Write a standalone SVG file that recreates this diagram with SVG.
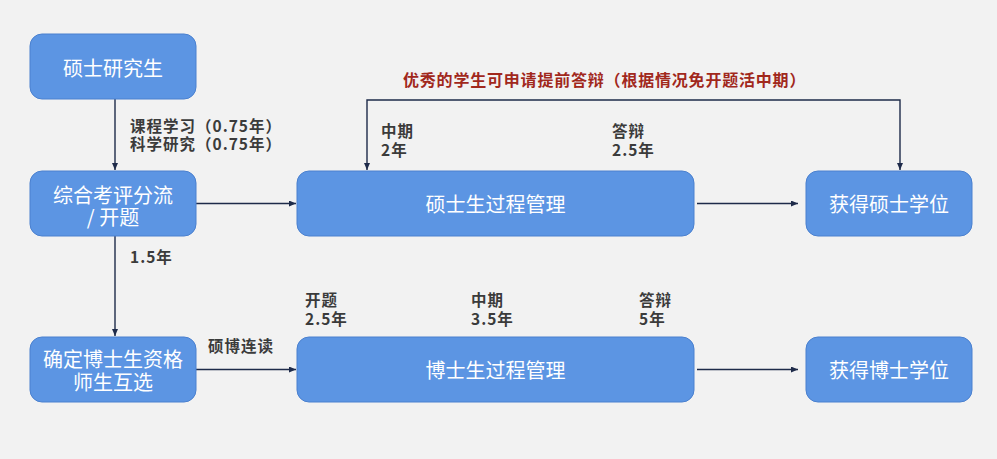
<svg xmlns="http://www.w3.org/2000/svg" width="997" height="459" viewBox="0 0 997 459">
<style>
.node rect{fill:#5c95e3;stroke:#4a80cf;stroke-width:1}
.node text{fill:#ffffff;font-family:"Noto Sans CJK SC",sans-serif;font-size:20px;text-anchor:middle;dominant-baseline:central}
.lbl{fill:#3b3b3b;font-family:"Noto Sans CJK SC",sans-serif;font-size:15.5px;font-weight:bold;letter-spacing:1px}
.red{fill:#a1281c;font-family:"Noto Sans CJK SC",sans-serif;font-size:16px;font-weight:bold;letter-spacing:0.8px}
.conn path{fill:none;stroke:#1e2b4a;stroke-width:1.4}
</style>
<defs>
<marker id="ah" viewBox="0 0 10 10" refX="10" refY="5" markerWidth="7" markerHeight="6" markerUnits="userSpaceOnUse" orient="auto-start-reverse" preserveAspectRatio="none">
<path d="M0,0 L10,5 L0,10 z" fill="#1e2b4a"/>
</marker>
</defs>
<rect x="0" y="0" width="997" height="459" fill="#f2f2f2"/>

<g id="connectors" class="conn">
<path d="M115,99 V170" marker-end="url(#ah)"/>
<path d="M115,236 V336" marker-end="url(#ah)"/>
<path d="M196,203.5 H296" marker-end="url(#ah)"/>
<path d="M196,369.5 H296" marker-end="url(#ah)"/>
<path d="M697,203.5 H798" marker-end="url(#ah)"/>
<path d="M697,369.5 H798" marker-end="url(#ah)"/>
<path d="M367,170 V100 H900 V170" marker-start="url(#ah)" marker-end="url(#ah)"/>
</g>

<g id="n1" class="node"><rect x="30" y="34" width="166" height="65" rx="12"/><text x="113" y="67">硕士研究生</text></g>
<g id="n2" class="node"><rect x="30" y="171" width="166" height="65" rx="12"/><text><tspan x="113" y="194">综合考评分流</tspan><tspan x="113" y="216">/ 开题</tspan></text></g>
<g id="n3" class="node"><rect x="30" y="337" width="166" height="65" rx="12"/><text><tspan x="113" y="358">确定博士生资格</tspan><tspan x="113" y="381">师生互选</tspan></text></g>
<g id="n4" class="node"><rect x="297" y="171" width="397" height="65" rx="12"/><text x="495.5" y="203.5">硕士生过程管理</text></g>
<g id="n5" class="node"><rect x="806" y="171" width="166" height="65" rx="12"/><text x="889" y="203.5">获得硕士学位</text></g>
<g id="n6" class="node"><rect x="297" y="337" width="397" height="65" rx="12"/><text x="495.5" y="369.5">博士生过程管理</text></g>
<g id="n7" class="node"><rect x="806" y="337" width="166" height="65" rx="12"/><text x="889" y="369.5">获得博士学位</text></g>

<g id="labels">
<text class="red" x="403" y="86">优秀的学生可申请提前答辩（根据情况免开题活中期）</text>
<text class="lbl"><tspan x="130" y="132">课程学习（0.75年）</tspan><tspan x="130" y="150">科学研究（0.75年）</tspan></text>
<text class="lbl" x="130" y="263">1.5年</text>
<text class="lbl" x="208" y="352">硕博连读</text>
<text class="lbl"><tspan x="381" y="137">中期</tspan><tspan x="381" y="156">2年</tspan></text>
<text class="lbl"><tspan x="612" y="137">答辩</tspan><tspan x="612" y="156">2.5年</tspan></text>
<text class="lbl"><tspan x="305" y="306">开题</tspan><tspan x="305" y="325">2.5年</tspan></text>
<text class="lbl"><tspan x="471" y="306">中期</tspan><tspan x="471" y="325">3.5年</tspan></text>
<text class="lbl"><tspan x="639" y="306">答辩</tspan><tspan x="639" y="325">5年</tspan></text>
</g>
</svg>
